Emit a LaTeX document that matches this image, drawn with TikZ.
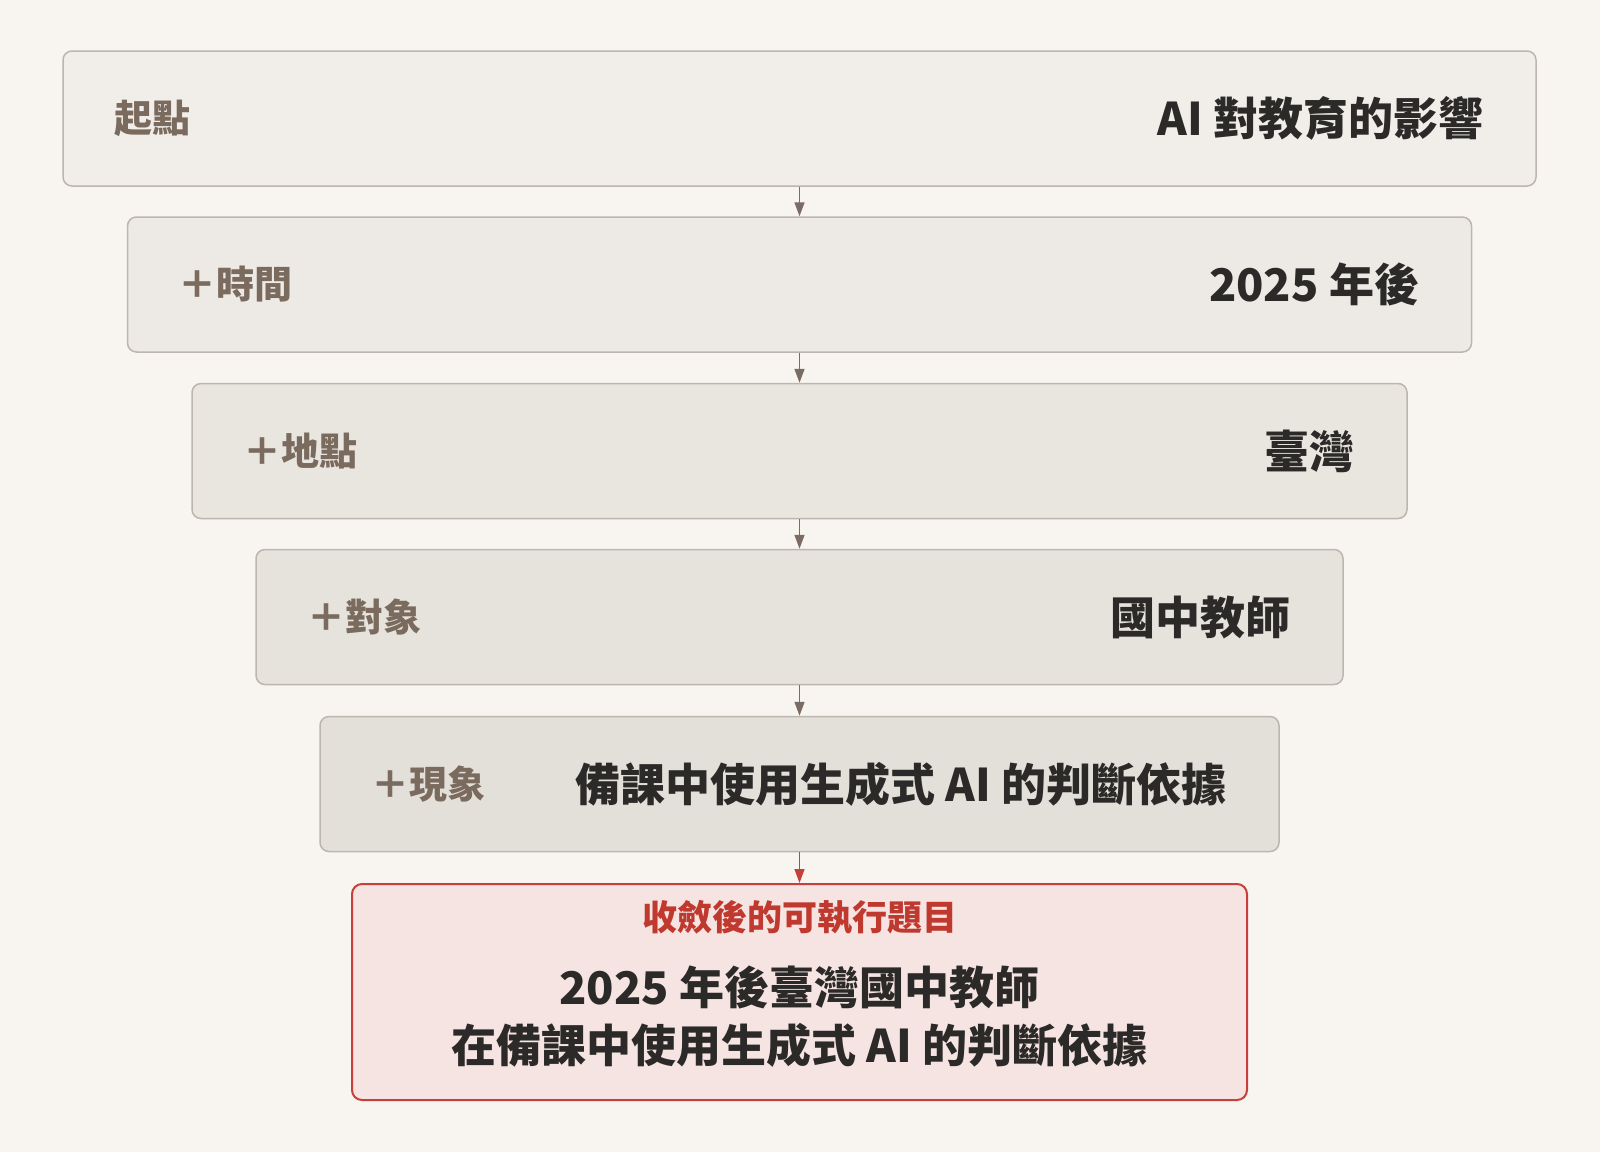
\documentclass[tikz,border=0pt]{standalone}
\usepackage{fontspec}
\setmainfont{Noto Sans CJK TC}
\usetikzlibrary{arrows.meta}
\definecolor{bgcol}{HTML}{F8F5F1}
\definecolor{boxline}{HTML}{BDB6AF}
\definecolor{fillA}{HTML}{F1EEEA}
\definecolor{fillB}{HTML}{EDEAE5}
\definecolor{fillC}{HTML}{E9E6E0}
\definecolor{fillD}{HTML}{E6E3DD}
\definecolor{fillE}{HTML}{E3E0DA}
\definecolor{tagcol}{HTML}{7B6B5F}
\definecolor{valcol}{HTML}{2B2A29}
\definecolor{arrowcol}{HTML}{7A6C63}
\definecolor{goalline}{HTML}{C5403A}
\definecolor{goalfill}{HTML}{F5E4E2}
\definecolor{goaltext}{HTML}{C0392F}
\begin{document}
\begin{tikzpicture}[x=1pt, y=1pt,
  stepbox/.style={rectangle, rounded corners=9pt, draw=boxline, line width=1.5pt, minimum height=135pt, inner sep=0pt},
  tag/.style={text=tagcol, font=\fontsize{38}{44}\selectfont\bfseries, inner sep=0pt},
  value/.style={text=valcol, font=\fontsize{45}{54}\selectfont\bfseries, inner sep=0pt},
  flow/.style={-{Triangle[length=14pt,width=10pt]}, line width=1.5pt, draw=arrowcol, fill=arrowcol}]
\fill [bgcol] (0,0) rectangle (1600,-1152);
\node (start) at (799.5,-118.5) [stepbox, fill=fillA, minimum width=1473pt] {};
\node (time) at (799.5,-284.5) [stepbox, fill=fillB, minimum width=1344pt] {};
\node (place) at (799.5,-451) [stepbox, fill=fillC, minimum width=1215pt] {};
\node (who) at (799.5,-617) [stepbox, fill=fillD, minimum width=1087pt] {};
\node (what) at (799.5,-784) [stepbox, fill=fillE, minimum width=959pt] {};
\node (goal) at (799.5,-992) [rectangle, rounded corners=10pt, draw=goalline, line width=2pt, fill=goalfill, minimum width=895pt, minimum height=216pt] {};
% left tags and right values
\node (starttag) at ([xshift=52pt]start.west) [tag, anchor=west] {起點};
\node (startval) at ([xshift=-53pt]start.east) [value, anchor=east] {AI 對教育的影響};
\node (timetag) at ([xshift=52pt]time.west) [tag, anchor=west] {＋時間};
\node (timeval) at ([xshift=-53pt]time.east) [value, anchor=east] {2025 年後};
\node (placetag) at ([xshift=52pt]place.west) [tag, anchor=west] {＋地點};
\node (placeval) at ([xshift=-53pt]place.east) [value, anchor=east] {臺灣};
\node (whotag) at ([xshift=52pt]who.west) [tag, anchor=west] {＋對象};
\node (whoval) at ([xshift=-53pt]who.east) [value, anchor=east] {國中教師};
\node (whattag) at ([xshift=52pt]what.west) [tag, anchor=west] {＋現象};
\node (whatval) at ([xshift=-53pt]what.east) [value, anchor=east] {備課中使用生成式 AI 的判斷依據};
\node (goaltitle) at (799.5,-917) [text=goaltext, font=\fontsize{35}{40}\selectfont\bfseries, inner sep=0pt] {收斂後的可執行題目};
\node (goalval) at (799.5,-1017) [value, align=center, font=\fontsize{45}{58}\selectfont\bfseries] {2025 年後臺灣國中教師\\在備課中使用生成式 AI 的判斷依據};
\foreach \a/\b in {start/time, time/place, place/who, who/what}
  \draw [flow] (\a.south) -- (\b.north);
\draw [flow, draw=goalline, fill=goalline] (what.south) -- (goal.north);
\end{tikzpicture}
\end{document}
